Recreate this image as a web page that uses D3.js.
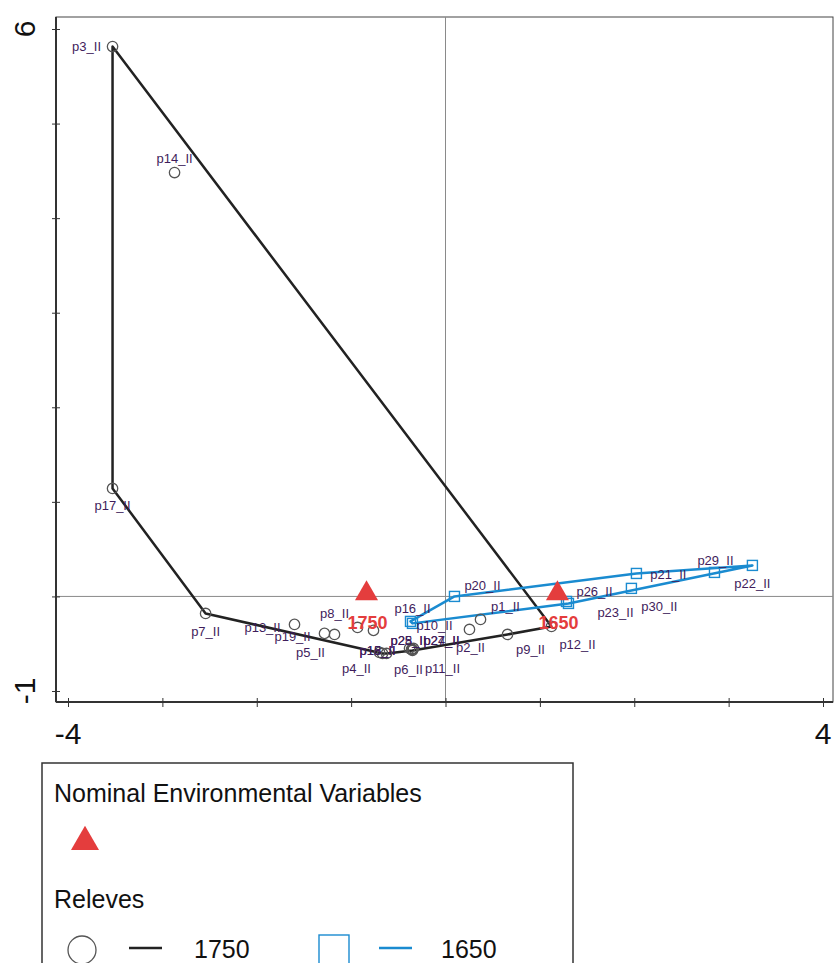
<!DOCTYPE html>
<html>
<head>
<meta charset="utf-8">
<script src="https://cdn.jsdelivr.net/npm/d3@7"></script>
<style>
  body { margin: 0; background: #fff; }
  svg { display: block; font-family: "Liberation Sans", Arial, sans-serif; }
</style>
</head>
<body>
<div id="chart"></div>
<script>
// releve scores, group 1750 (circles)
const ids1750 = ['p1_II','p2_II','p3_II','p4_II','p5_II','p6_II','p7_II','p8_II','p9_II','p11_II','p12_II',
  'p13_II','p14_II','p15_II','p17_II','p18_II','p19_II','p24_II','p25_II','p27_II','p28_II'];
const x1750 = [0.371, 0.254, -3.528, -0.699, -1.176, -0.360, -2.542, -0.932, 0.657, -0.350, 1.123,
  -1.600, -2.871, -0.667, -3.528, -0.625, -1.282, -0.339, -0.763, -0.350, -0.381];
const y1750 = [-0.243, -0.349, 5.814, -0.592, -0.402, -0.560, -0.180, -0.328, -0.402, -0.571, -0.317,
  -0.296, 4.482, -0.603, 1.142, -0.603, -0.391, -0.550, -0.359, -0.560, -0.550];

// releve scores, group 1650 (squares)
const ids1650 = ['p10_II','p16_II','p20_II','p21_II','p22_II','p23_II','p26_II','p29_II','p30_II'];
const x1650 = [-0.350, -0.371, 0.095, 2.023, 3.252, 1.303, 1.282, 2.850, 1.970];
const y1650 = [-0.285, -0.264, 0.000, 0.243, 0.328, -0.074, -0.053, 0.254, 0.085];

// nominal environmental variables (centroids)
const envNames = ['1750', '1650'];
const envX = [-0.837, 1.186];
const envY = [0.03, 0.03];

const xTicks = [-4, -3, -2, -1, 0, 1, 2, 3, 4];
const yTicks = [-1, 0, 1, 2, 3, 4, 5, 6];
const xTickLabels = ['-4', '4'];
const yTickLabels = ['-1', '6'];

// label placement (pixel offsets of label centre from its point)
const labelOff = {
  p1_II: [25, -13], p2_II: [1, 18], p3_II: [-26, 0], p4_II: [-23, 16], p5_II: [-24, 18],
  p6_II: [-3, 20], p7_II: [0, 18], p8_II: [-23, -14], p9_II: [23, 15], p11_II: [30, 18],
  p12_II: [26, 18], p13_II: [-32, 3], p14_II: [0, -14], p15_II: [-5, -3], p17_II: [0, 17],
  p18_II: [-9, -3], p19_II: [-32, 3], p24_II: [28, -8], p25_II: [35, 10], p27_II: [29, -9],
  p28_II: [-1, -8],
  p10_II: [22, 2], p16_II: [2, -13], p20_II: [28, -11], p21_II: [32, 1], p22_II: [0, 18],
  p23_II: [47, 9], p26_II: [28, -10], p29_II: [1, -12], p30_II: [28, 18]
};

const W = 835, H = 963;
const frame = {left: 56, right: 833, top: 17, bottom: 702};
const BLACK = '#222', BLUE = '#1a8bd0', RED = '#e43d3d', LABEL = '#3f1d5c';

const x = d3.scaleLinear().domain([-4, 4]).range([68, 823]);
const y = d3.scaleLinear().domain([-1, 6]).range([691, 29]);

const svg = d3.select('#chart').append('svg')
  .attr('width', W).attr('height', H);

// frame
svg.append('rect')
  .attr('x', frame.left).attr('y', frame.top)
  .attr('width', frame.right - frame.left).attr('height', frame.bottom - frame.top)
  .attr('fill', 'none').attr('stroke', '#444').attr('stroke-width', 1);

// zero lines
svg.append('line')
  .attr('x1', x(0)).attr('x2', x(0)).attr('y1', frame.top).attr('y2', frame.bottom)
  .attr('stroke', '#8a8a8a').attr('stroke-width', 1);
svg.append('line')
  .attr('x1', frame.left).attr('x2', frame.right).attr('y1', y(0)).attr('y2', y(0))
  .attr('stroke', '#8a8a8a').attr('stroke-width', 1);

// axes
const xAxis = d3.axisBottom(x).tickValues(xTicks).tickSize(5).tickFormat('');
svg.append('g').attr('transform', `translate(0,${frame.bottom})`).call(xAxis)
  .call(g => g.select('.domain').attr('d', `M${frame.left},0H${frame.right}`).attr('stroke', '#333').attr('stroke-width', 2))
  .call(g => g.selectAll('.tick line').attr('y1', -4).attr('y2', 5).attr('stroke', '#333'));
const yAxis = d3.axisLeft(y).tickValues(yTicks).tickSize(4).tickFormat('');
svg.append('g').attr('transform', `translate(${frame.left},0)`).call(yAxis)
  .call(g => g.select('.domain').attr('d', `M0,${frame.top}V${frame.bottom}`).attr('stroke', '#333').attr('stroke-width', 2))
  .call(g => g.selectAll('.tick line').attr('x1', -4).attr('x2', 4).attr('stroke', '#333'));

svg.selectAll('.xlab').data(xTickLabels).enter().append('text')
  .attr('x', d => x(+d)).attr('y', 744)
  .attr('text-anchor', 'middle').style('font-size', '30px').attr('fill', '#111')
  .text(d => d);
svg.selectAll('.ylab').data(yTickLabels).enter().append('text')
  .attr('transform', d => `translate(35,${y(+d)}) rotate(-90)`)
  .attr('text-anchor', 'middle').style('font-size', '30px').attr('fill', '#111')
  .text(d => d);

// groups
const pts1750 = ids1750.map((id, i) => ({id, x: x1750[i], y: y1750[i]}));
const pts1650 = ids1650.map((id, i) => ({id, x: x1650[i], y: y1650[i]}));

function hull(pts, color) {
  const h = d3.polygonHull(pts.map(p => [x(p.x), y(p.y)]));
  svg.append('path')
    .attr('d', 'M' + h.join('L') + 'Z')
    .attr('fill', 'none').attr('stroke', color).attr('stroke-width', 2.5)
    .attr('stroke-linejoin', 'round');
}
hull(pts1750, BLACK);
hull(pts1650, BLUE);

svg.selectAll('.c1750').data(pts1750).enter().append('circle')
  .attr('cx', d => x(d.x)).attr('cy', d => y(d.y)).attr('r', 5.2)
  .attr('fill', 'none').attr('stroke', '#555').attr('stroke-width', 1.3);

svg.selectAll('.s1650').data(pts1650).enter().append('rect')
  .attr('x', d => x(d.x) - 5).attr('y', d => y(d.y) - 5)
  .attr('width', 10).attr('height', 10)
  .attr('fill', 'none').attr('stroke', BLUE).attr('stroke-width', 1.4);

svg.selectAll('.plab').data(pts1750.concat(pts1650)).enter().append('text')
  .attr('x', d => x(d.x) + labelOff[d.id][0])
  .attr('y', d => y(d.y) + labelOff[d.id][1])
  .attr('dy', '0.35em').attr('text-anchor', 'middle')
  .style('font-size', '13px').attr('fill', LABEL)
  .text(d => d.id);

// environmental variables
const env = envNames.map((n, i) => ({n, x: envX[i], y: envY[i]}));
const tri = d3.symbol().type(d3.symbolTriangle).size(230);
svg.selectAll('.env').data(env).enter().append('path')
  .attr('d', tri).attr('transform', d => `translate(${x(d.x)},${y(d.y)})`)
  .attr('fill', RED);
svg.selectAll('.envlab').data(env).enter().append('text')
  .attr('x', d => x(d.x) + 1).attr('y', d => y(d.y) + 29)
  .attr('dy', '0.35em').attr('text-anchor', 'middle')
  .style('font-size', '18px').style('font-weight', 'bold').attr('fill', RED)
  .text(d => d.n);

// legend
const lg = svg.append('g');
lg.append('rect').attr('x', 42).attr('y', 763).attr('width', 531).attr('height', 240)
  .attr('fill', '#fff').attr('stroke', '#333').attr('stroke-width', 1.5);
lg.append('text').attr('x', 54).attr('y', 802).style('font-size', '25px').attr('fill', '#111')
  .text('Nominal Environmental Variables');
lg.append('path').attr('d', d3.symbol().type(d3.symbolTriangle).size(340))
  .attr('transform', 'translate(85,842)').attr('fill', RED);
lg.append('text').attr('x', 54).attr('y', 908).style('font-size', '25px').attr('fill', '#111')
  .text('Releves');
lg.append('circle').attr('cx', 82).attr('cy', 950).attr('r', 14)
  .attr('fill', 'none').attr('stroke', '#555').attr('stroke-width', 1.3);
lg.append('line').attr('x1', 129).attr('x2', 162).attr('y1', 948).attr('y2', 948)
  .attr('stroke', BLACK).attr('stroke-width', 2.5);
lg.append('text').attr('x', 194).attr('y', 958).style('font-size', '25px').attr('fill', '#111')
  .text(envNames[0]);
lg.append('rect').attr('x', 319).attr('y', 935).attr('width', 30).attr('height', 30)
  .attr('fill', 'none').attr('stroke', BLUE).attr('stroke-width', 1.4);
lg.append('line').attr('x1', 379).attr('x2', 412).attr('y1', 948).attr('y2', 948)
  .attr('stroke', BLUE).attr('stroke-width', 2.5);
lg.append('text').attr('x', 441).attr('y', 958).style('font-size', '25px').attr('fill', '#111')
  .text(envNames[1]);
</script>
</body>
</html>
